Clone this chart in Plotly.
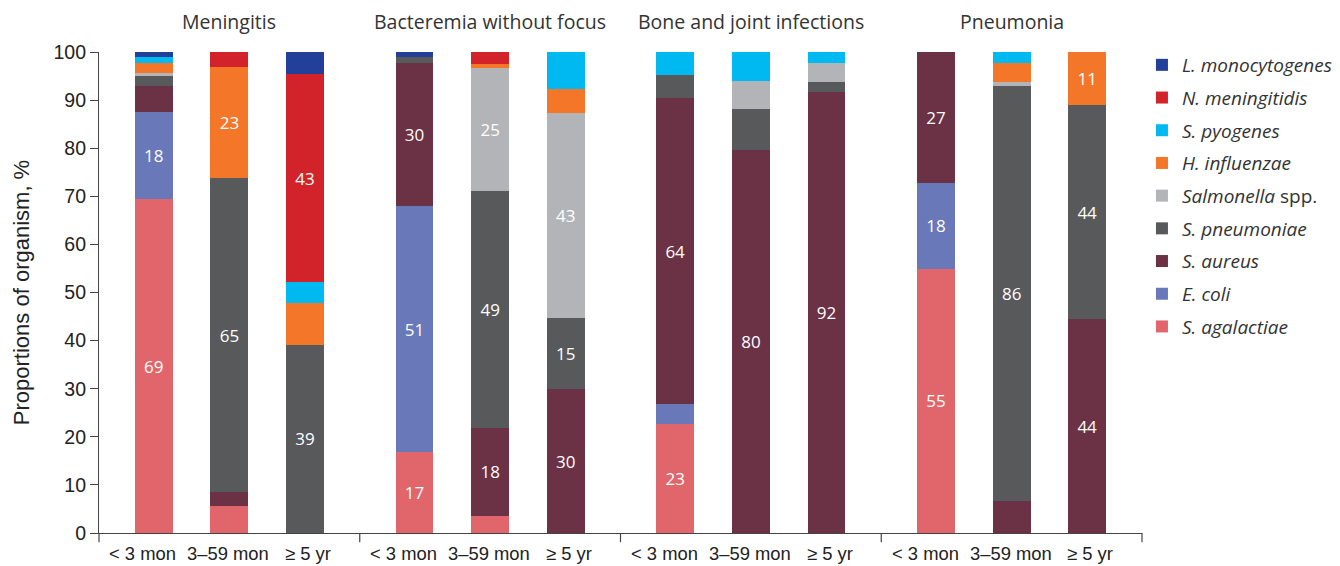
import plotly.graph_objects as go
from plotly.subplots import make_subplots

conditions = ["Meningitis", "Bacteremia without focus", "Bone and joint infections", "Pneumonia"]
age_groups = ["< 3 mon", "3–59 mon", "≥ 5 yr"]

# values per organism, ordered condition by condition (3 age groups each)
s_agalactiae = [69.4, 5.6, 0, 16.8, 3.6, 0, 22.6, 0, 0, 54.9, 0, 0]
e_coli = [18.2, 0, 0, 51.2, 0, 0, 4.2, 0, 0, 17.9, 0, 0]
s_aureus = [5.3, 2.9, 0, 29.7, 18.2, 29.9, 63.6, 79.6, 91.7, 27.2, 6.7, 44.45]
s_pneumoniae = [2.1, 65.3, 39.1, 1.3, 49.4, 14.9, 4.8, 8.5, 2.1, 0, 86.2, 44.45]
salmonella = [0.6, 0, 0, 0, 25.4, 42.6, 0, 5.9, 3.9, 0, 0.9, 0]
h_influenzae = [2.1, 23.1, 8.7, 0, 1.0, 5.0, 0, 0, 0, 0, 3.9, 11.1]
s_pyogenes = [1.2, 0, 4.3, 0, 0, 7.6, 4.8, 6.0, 2.3, 0, 2.3, 0]
n_meningitidis = [0, 3.1, 43.4, 0, 2.4, 0, 0, 0, 0, 0, 0, 0]
l_monocytogenes = [1.1, 0, 4.5, 1.0, 0, 0, 0, 0, 0, 0, 0, 0]

organisms = [
    ("<i>S. agalactiae</i>", s_agalactiae, "#E0666B"),
    ("<i>E. coli</i>", e_coli, "#6878B8"),
    ("<i>S. aureus</i>", s_aureus, "#6B3144"),
    ("<i>S. pneumoniae</i>", s_pneumoniae, "#58595B"),
    ("<i>Salmonella</i> spp.", salmonella, "#B3B4B8"),
    ("<i>H. influenzae</i>", h_influenzae, "#F37629"),
    ("<i>S. pyogenes</i>", s_pyogenes, "#00B9F1"),
    ("<i>N. meningitidis</i>", n_meningitidis, "#D2232A"),
    ("<i>L. monocytogenes</i>", l_monocytogenes, "#223F99"),
]

TITLE_FONT = "Open Sans"
TICK_FONT = "Liberation Sans, Arial"
AXIS_COLOR = "#444444"
LABEL_SHIFT = [-11, -1, 3]  # horizontal nudge of the age-group labels (px)

fig = make_subplots(rows=1, cols=4, shared_yaxes=True, horizontal_spacing=0)

n_age = len(age_groups)
n_org = len(organisms)
for oi, (name, vals, color) in enumerate(organisms):
    for ci in range(len(conditions)):
        seg = vals[ci * n_age:(ci + 1) * n_age]
        txt = [str(round(v)) if v >= 10 else "" for v in seg]
        fig.add_trace(
            go.Bar(
                x=age_groups, y=seg, name=name, legendgroup=name,
                legendrank=100 + (n_org - oi),
                showlegend=(ci == 0),
                marker=dict(color=color, line=dict(width=0)),
                width=0.5,
                text=txt, textposition="inside", insidetextanchor="middle",
                textangle=0, constraintext="none",
                textfont=dict(color="white", size=17, family=TITLE_FONT),
                hoverinfo="skip",
            ),
            row=1, col=ci + 1,
        )

for ci in range(len(conditions)):
    fig.update_xaxes(
        row=1, col=ci + 1, type="category", categoryorder="array",
        categoryarray=age_groups, range=[-0.724, 2.724],
        showline=True, linecolor=AXIS_COLOR, linewidth=1.2, ticks="",
        showgrid=False, zeroline=False, automargin=False,
        showticklabels=False,
    )
    xref = "x" if ci == 0 else f"x{ci + 1}"
    for ai, age in enumerate(age_groups):
        fig.add_annotation(
            text=age, x=age, y=0, xref=xref, yref="paper",
            xanchor="center", yanchor="middle", yshift=-20,
            xshift=LABEL_SHIFT[ai], showarrow=False,
            font=dict(family=TICK_FONT, size=18.4, color="#222222"),
        )
    fig.add_annotation(
        text=conditions[ci], x=(ci + 0.5) / 4, y=1, xref="paper", yref="paper",
        xanchor="center", yanchor="bottom", yshift=15, showarrow=False,
        font=dict(family=TITLE_FONT, size=19.5, color="#333333"),
    )

fig.update_yaxes(range=[0, 100], showgrid=False, zeroline=False, automargin=False)
fig.update_yaxes(
    row=1, col=1, showline=True, linecolor=AXIS_COLOR, linewidth=1.2,
    ticks="outside", ticklen=8, tickcolor=AXIS_COLOR, tickwidth=1.2, dtick=10,
    tickfont=dict(family=TICK_FONT, size=19.5, color="#222222"),
    automargin=True,
    title=dict(text="Proportions of organism, %", standoff=17,
               font=dict(family=TICK_FONT, size=22, color="#222222")),
)
for ci in range(2, 5):
    fig.update_yaxes(row=1, col=ci, showline=False, ticks="", showticklabels=False)

# group separator ticks below the x axis
for k in range(len(conditions) + 1):
    fig.add_shape(
        type="line", xref="paper", yref="paper",
        x0=k / 4, x1=k / 4, y0=0, y1=-0.019,
        line=dict(color=AXIS_COLOR, width=1.2),
    )

fig.update_layout(
    width=1340, height=566,
    barmode="stack",
    plot_bgcolor="white", paper_bgcolor="white",
    margin=dict(l=91, r=205, t=44, b=41),
    legend=dict(
        x=0.999, xanchor="left", y=1.0, yanchor="top",
        traceorder="grouped", tracegroupgap=5,
        font=dict(family=TITLE_FONT, size=19, color="#333333"),
        bgcolor="rgba(0,0,0,0)",
    ),
)

# lift the legend slightly above the plot top if the legend height cap can be raised
try:
    fig.update_layout(legend_maxheight=500)
    fig.update_layout(legend_y=1.0125)
except Exception:
    pass

fig.write_html("out.html")
